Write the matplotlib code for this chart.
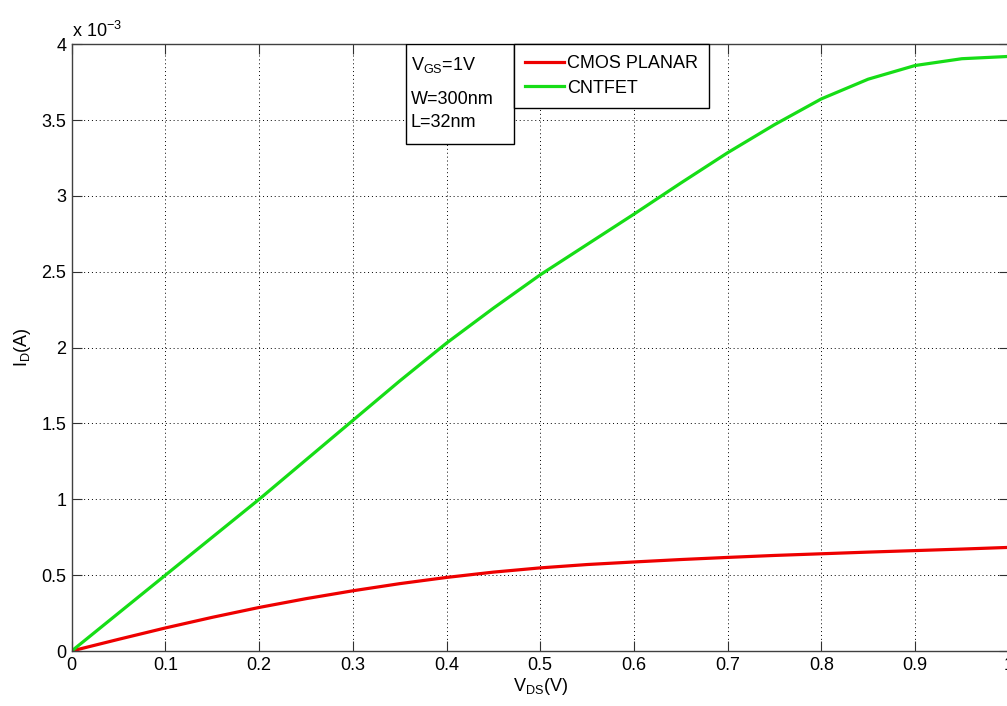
import matplotlib.pyplot as plt
from matplotlib.patches import Rectangle

plt.rcParams['font.family'] = ['Liberation Sans', 'DejaVu Sans']
plt.rcParams['mathtext.fontset'] = 'custom'
plt.rcParams['mathtext.rm'] = 'Liberation Sans'
plt.rcParams['mathtext.it'] = 'Liberation Sans'

vds = [0.0, 0.05, 0.1, 0.15, 0.2, 0.25, 0.3, 0.35, 0.4, 0.45, 0.5,
       0.55, 0.6, 0.65, 0.7, 0.75, 0.8, 0.85, 0.9, 0.95, 1.0]
# drain current, mA
id_cmos = [0.0, 0.077, 0.152, 0.222, 0.287, 0.345, 0.397, 0.444, 0.485, 0.52, 0.548,
           0.57, 0.587, 0.603, 0.617, 0.63, 0.641, 0.652, 0.662, 0.672, 0.683]
id_cntfet = [0.0, 0.25, 0.5, 0.75, 1.0, 1.26, 1.52, 1.78, 2.03, 2.26, 2.48,
             2.68, 2.88, 3.085, 3.285, 3.47, 3.64, 3.77, 3.86, 3.905, 3.92]
xticks = [0, 0.1, 0.2, 0.3, 0.4, 0.5, 0.6, 0.7, 0.8, 0.9, 1]
yticks = [0, 0.5, 1, 1.5, 2, 2.5, 3, 3.5, 4]

W, H = 1007, 706
X0, Y0, AW, AH = 71.7, 651.0, 937.0, 606.7   # axes box in pixels
fig = plt.figure(figsize=(W / 100, H / 100), dpi=100)
ax = fig.add_axes([X0 / W, 1 - Y0 / H, AW / W, AH / H])


def ax_xy(px, py):
    return (px - X0) / AW, (Y0 - py) / AH


ax.plot(vds, [v * 1e-3 for v in id_cmos], color='#ee0000', lw=2.3, label='CMOS PLANAR')
ax.plot(vds, [v * 1e-3 for v in id_cntfet], color='#16dd16', lw=2.3, label='CNTFET')

ax.set_xlim(0, 1)
ax.set_ylim(0, 4e-3)
ax.set_xticks(xticks)
ax.set_xticklabels([f'{t:g}' for t in xticks])
ax.set_yticks([t * 1e-3 for t in yticks])
ax.set_yticklabels([f'{t:g}' for t in yticks])
ax.tick_params(direction='in', top=True, right=True, labelsize=13, length=7, pad=4, color='#303030')
ax.grid(True, color='black', linestyle=(0, (1, 3)), linewidth=0.7)
for s in ax.spines.values():
    s.set_color('#404040')
    s.set_linewidth(1.0)

ax.text(0.0, ax_xy(0, 37)[1], r'x 10$^{-3}$', transform=ax.transAxes, fontsize=13,
        ha='left', va='baseline')
ax.set_xlabel(r'V$_{DS}$(V)', fontsize=13, labelpad=2)
ax.set_ylabel(r'I$_D$(A)', fontsize=13, labelpad=6)

leg = ax.legend(loc='upper left', bbox_to_anchor=(ax_xy(514, 0)[0], 1.0), fontsize=13,
                frameon=True, fancybox=False, edgecolor='black', handlelength=2.15,
                handletextpad=0.2, borderpad=0.6, labelspacing=0.42, borderaxespad=0,
                framealpha=1)
leg.get_frame().set_linewidth(1.0)

# parameter box
bx0, by0 = ax_xy(406, 144)
bx1, by1 = ax_xy(514, 44)
ax.add_patch(Rectangle((bx0, by0), bx1 - bx0, by1 - by0, transform=ax.transAxes,
                       facecolor='white', edgecolor='black', lw=1.0, zorder=4))
for label, py in [('V$_{GS}$=1V', 70), ('W=300nm', 104), ('L=32nm', 127)]:
    tx, ty = ax_xy(411, py)
    ax.text(tx, ty, label, transform=ax.transAxes, fontsize=13, ha='left', va='baseline', zorder=5)

fig.savefig('out.png', dpi=100)
